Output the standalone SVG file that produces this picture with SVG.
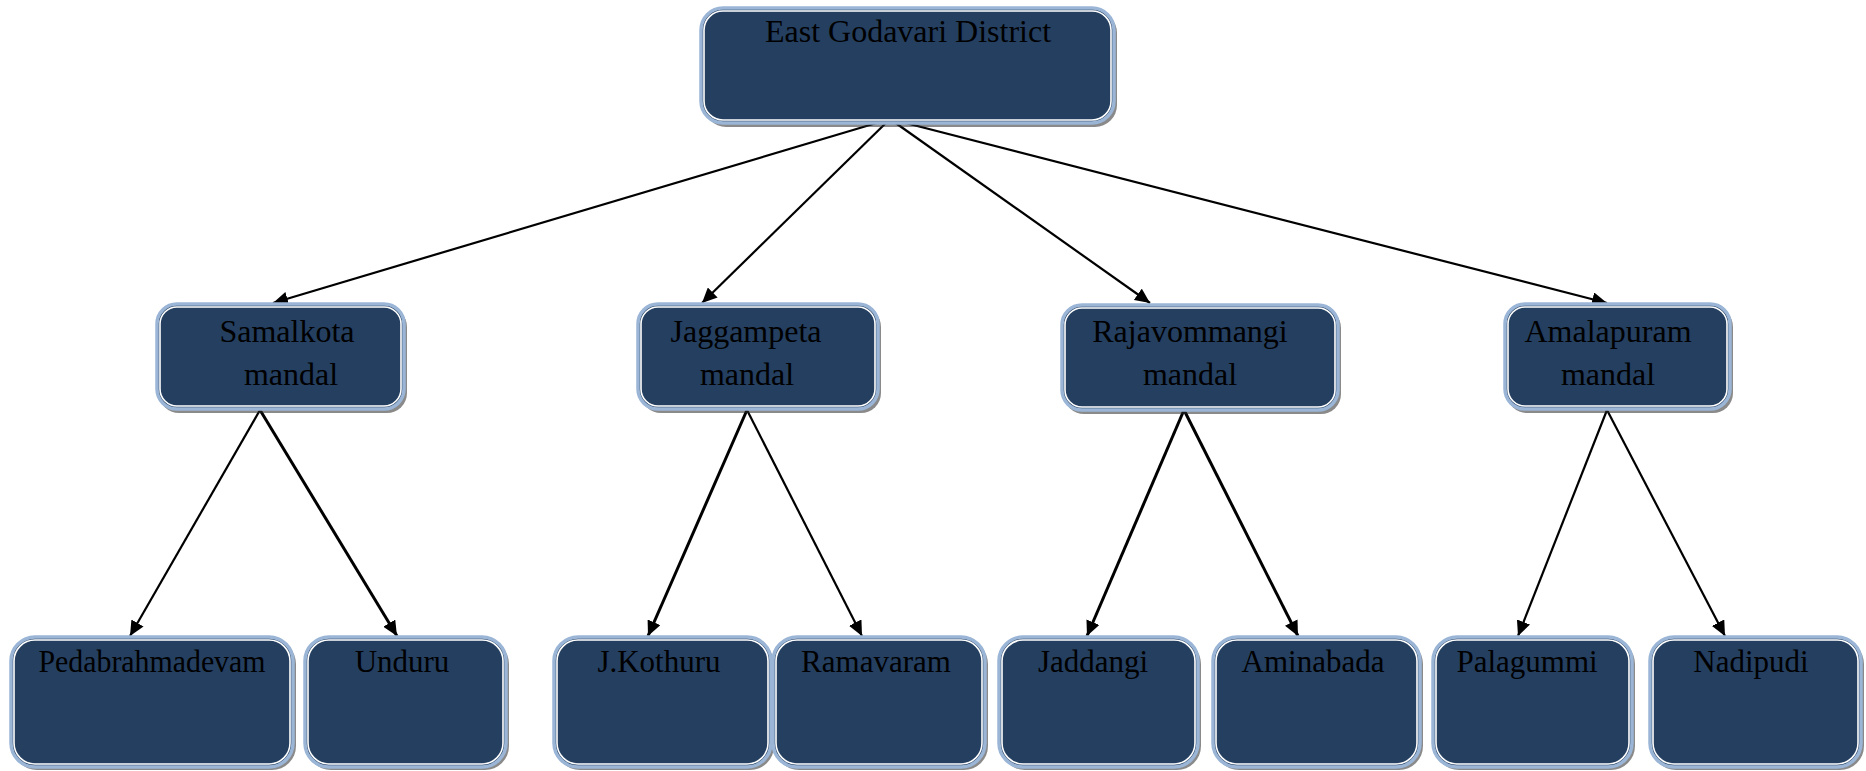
<svg xmlns="http://www.w3.org/2000/svg" width="1866" height="771" viewBox="0 0 1866 771">
<style>
.sh{fill:#2a2a2a;opacity:0.55}
.bx{fill:#243f60;stroke:#9ab5d6;stroke-width:3.5}
.in{fill:none;stroke:#ffffff;stroke-width:1.6}
text{font-family:"Liberation Serif","Times New Roman",serif;fill:#000;text-anchor:middle}
.t1{font-size:32px}
.t2{font-size:31px}
.c{stroke:#000;stroke-width:2.2;fill:none;marker-end:url(#ah)}
.cb{stroke-width:3}
</style>
<defs>
<marker id="ah" markerUnits="userSpaceOnUse" markerWidth="16" markerHeight="14" refX="15" refY="7" orient="auto">
<path d="M0,0 L15,7 L0,14 z" fill="#000"/>
</marker>
</defs>
<rect width="1866" height="771" fill="#fff"/>
<g id="connectors">
<line class="c" x1="890" y1="119" x2="273" y2="303"/>
<line class="c" x1="890" y1="119" x2="702" y2="303"/>
<line class="c" x1="890" y1="119" x2="1150" y2="303"/>
<line class="c" x1="890" y1="119" x2="1607" y2="303"/>
<line class="c" x1="260" y1="410" x2="130" y2="636"/>
<line class="c cb" x1="260" y1="410" x2="397" y2="636"/>
<line class="c cb" x1="747" y1="410" x2="648" y2="636"/>
<line class="c" x1="747" y1="410" x2="862" y2="636"/>
<line class="c cb" x1="1184" y1="410" x2="1087" y2="636"/>
<line class="c cb" x1="1184" y1="410" x2="1298" y2="636"/>
<line class="c" x1="1607" y1="410" x2="1518" y2="636"/>
<line class="c" x1="1607" y1="410" x2="1725" y2="636"/>
</g>
<g id="n-east">
<rect class="sh" x="704" y="11" width="413" height="116" rx="22"/>
<rect class="bx" x="701" y="8" width="413" height="115" rx="22"/>
<rect class="in" x="704" y="11" width="407" height="109" rx="19"/>
<text class="t1" x="908" y="42">East Godavari District</text>
</g>
<g id="n-samalkota">
<rect class="sh" x="159" y="307" width="248" height="106" rx="20"/>
<rect class="bx" x="157" y="304" width="247" height="105" rx="20"/>
<rect class="in" x="160" y="307" width="241" height="99" rx="17"/>
<text class="t1" x="287" y="342">Samalkota</text>
<text class="t1" x="291" y="385">mandal</text>
</g>
<g id="n-jaggampeta">
<rect class="sh" x="641" y="307" width="240" height="106" rx="20"/>
<rect class="bx" x="638" y="304" width="240" height="105" rx="20"/>
<rect class="in" x="641" y="307" width="234" height="99" rx="17"/>
<text class="t1" x="746" y="342">Jaggampeta</text>
<text class="t1" x="747" y="385">mandal</text>
</g>
<g id="n-rajavommangi">
<rect class="sh" x="1064" y="308" width="277" height="106" rx="20"/>
<rect class="bx" x="1062" y="305" width="276" height="105" rx="20"/>
<rect class="in" x="1065" y="308" width="270" height="99" rx="17"/>
<text class="t1" x="1190" y="342">Rajavommangi</text>
<text class="t1" x="1190" y="385">mandal</text>
</g>
<g id="n-amalapuram">
<rect class="sh" x="1507" y="307" width="226" height="106" rx="20"/>
<rect class="bx" x="1505" y="304" width="225" height="105" rx="20"/>
<rect class="in" x="1508" y="307" width="219" height="99" rx="17"/>
<text class="t1" x="1608" y="342">Amalapuram</text>
<text class="t1" x="1608" y="385">mandal</text>
</g>
<g id="n-pedabrahmadevam">
<rect class="sh" x="13" y="640" width="283" height="130" rx="24"/>
<rect class="bx" x="11" y="637" width="282" height="130" rx="24"/>
<rect class="in" x="14" y="640" width="276" height="124" rx="21"/>
<text class="t2" x="152" y="672" textLength="227" lengthAdjust="spacingAndGlyphs">Pedabrahmadevam</text>
</g>
<g id="n-unduru">
<rect class="sh" x="307" y="640" width="202" height="130" rx="24"/>
<rect class="bx" x="305" y="637" width="201" height="130" rx="24"/>
<rect class="in" x="308" y="640" width="195" height="124" rx="21"/>
<text class="t2" x="402" y="672">Unduru</text>
</g>
<g id="n-jkothuru">
<rect class="sh" x="556" y="640" width="218" height="130" rx="24"/>
<rect class="bx" x="554" y="637" width="217" height="130" rx="24"/>
<rect class="in" x="557" y="640" width="211" height="124" rx="21"/>
<text class="t2" x="659" y="672">J.Kothuru</text>
</g>
<g id="n-ramavaram">
<rect class="sh" x="775" y="640" width="213" height="130" rx="24"/>
<rect class="bx" x="773" y="637" width="212" height="130" rx="24"/>
<rect class="in" x="776" y="640" width="206" height="124" rx="21"/>
<text class="t2" x="876" y="672">Ramavaram</text>
</g>
<g id="n-jaddangi">
<rect class="sh" x="1001" y="640" width="200" height="130" rx="24"/>
<rect class="bx" x="999" y="637" width="199" height="130" rx="24"/>
<rect class="in" x="1002" y="640" width="193" height="124" rx="21"/>
<text class="t2" x="1093" y="672">Jaddangi</text>
</g>
<g id="n-aminabada">
<rect class="sh" x="1215" y="640" width="208" height="130" rx="24"/>
<rect class="bx" x="1213" y="637" width="207" height="130" rx="24"/>
<rect class="in" x="1216" y="640" width="201" height="124" rx="21"/>
<text class="t2" x="1313" y="672">Aminabada</text>
</g>
<g id="n-palagummi">
<rect class="sh" x="1435" y="640" width="200" height="130" rx="24"/>
<rect class="bx" x="1433" y="637" width="199" height="130" rx="24"/>
<rect class="in" x="1436" y="640" width="193" height="124" rx="21"/>
<text class="t2" x="1527" y="672">Palagummi</text>
</g>
<g id="n-nadipudi">
<rect class="sh" x="1652" y="640" width="212" height="130" rx="24"/>
<rect class="bx" x="1650" y="637" width="211" height="130" rx="24"/>
<rect class="in" x="1653" y="640" width="205" height="124" rx="21"/>
<text class="t2" x="1751" y="672">Nadipudi</text>
</g>
</svg>
